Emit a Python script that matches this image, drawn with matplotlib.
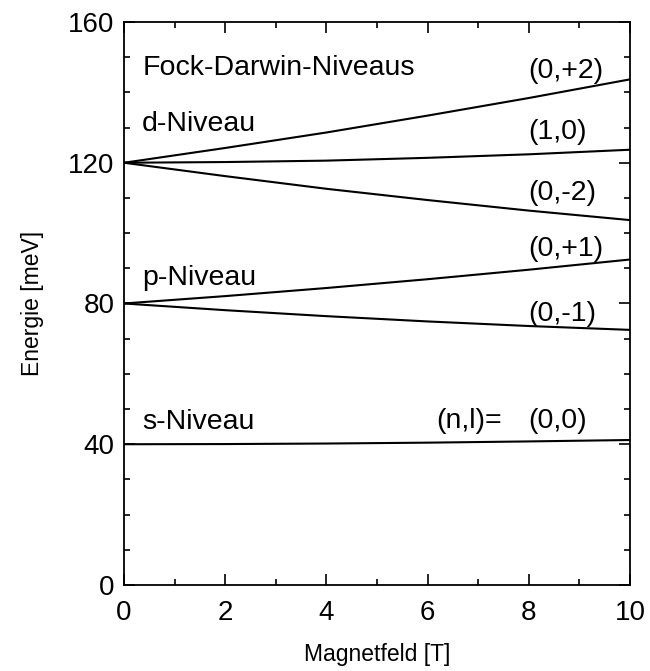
import matplotlib
matplotlib.use("Agg")
import matplotlib.pyplot as plt
from matplotlib.ticker import MultipleLocator

plt.rcParams['font.family'] = ['Liberation Sans', 'DejaVu Sans']

# Magnetfeld in T
field = [0, 2, 4, 6, 8, 10]

# Fock-Darwin energies in meV, (n,l)
level_00 = [40.0, 40.05, 40.2, 40.45, 40.8, 41.2]
level_0p1 = [80.0, 82.1, 84.4, 86.9, 89.6, 92.5]
level_0m1 = [80.0, 78.1, 76.4, 74.9, 73.6, 72.5]
level_0p2 = [120.0, 124.2, 128.6, 133.4, 138.4, 143.7]
level_0m2 = [120.0, 116.2, 112.6, 109.4, 106.4, 103.7]
level_10 = [120.0, 120.2, 120.6, 121.4, 122.4, 123.7]

fig = plt.figure(figsize=(6.5, 6.71), dpi=100)
ax = fig.add_axes([0.1908, 0.1282, 0.7784, 0.839])

for y in [level_00, level_0p1, level_0m1, level_0p2, level_0m2, level_10]:
    ax.plot(field, y, color='black', lw=1.5)

ax.set_xlim(0, 10)
ax.set_ylim(0, 160)
ax.xaxis.set_major_locator(MultipleLocator(2))
ax.xaxis.set_minor_locator(MultipleLocator(1))
ax.yaxis.set_major_locator(MultipleLocator(40))
ax.yaxis.set_minor_locator(MultipleLocator(10))
ax.tick_params(which='both', direction='in', top=True, right=True, width=1.2)
ax.tick_params(which='major', length=8, labelsize=20)
ax.tick_params(axis='x', which='major', pad=11)
ax.tick_params(axis='y', which='major', pad=7)
ax.tick_params(which='minor', length=4)
for s in ax.spines.values():
    s.set_linewidth(1.3)

ax.set_xlabel('Magnetfeld [T]', fontsize=16.5, labelpad=12)
ax.set_ylabel('Energie [meV]', fontsize=16.5, labelpad=17)

fs = 20.5
ax.text(0.36, 147.0, 'Fock-Darwin-Niveaus', fontsize=fs, va='center')
ax.text(0.36, 131.0, 'd-Niveau', fontsize=fs, va='center')
ax.text(0.36, 87.3, 'p-Niveau', fontsize=fs, va='center')
ax.text(0.36, 46.4, 's-Niveau', fontsize=fs, va='center')

ax.text(7.98, 146.2, '(0,+2)', fontsize=fs, va='center')
ax.text(7.98, 128.6, '(1,0)', fontsize=fs, va='center')
ax.text(7.98, 111.3, '(0,-2)', fontsize=fs, va='center')
ax.text(7.98, 95.6, '(0,+1)', fontsize=fs, va='center')
ax.text(7.98, 77.0, '(0,-1)', fontsize=fs, va='center')
ax.text(7.98, 46.6, '(0,0)', fontsize=fs, va='center')
ax.text(6.17, 46.6, '(n,l)=', fontsize=fs, va='center')

fig.savefig('out.png', dpi=100)
